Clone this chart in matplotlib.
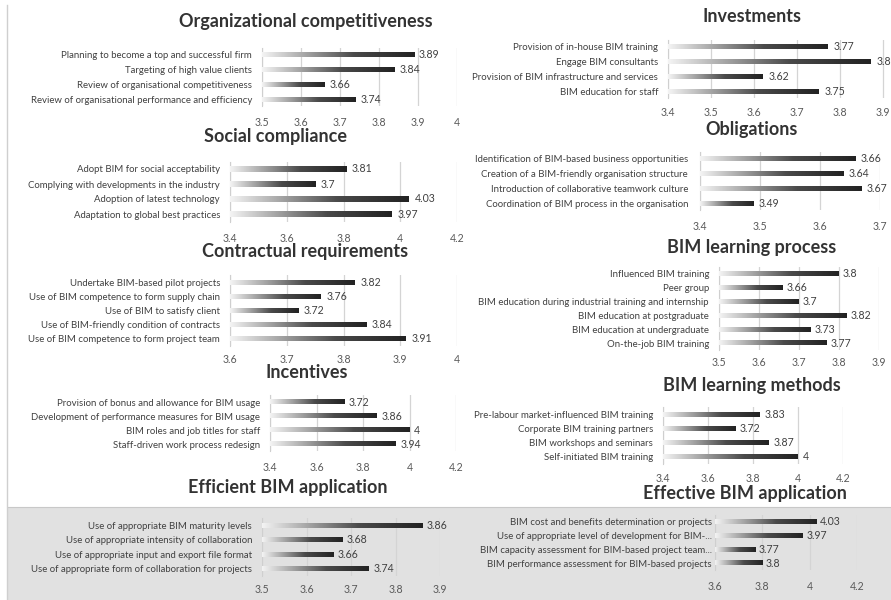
import matplotlib
matplotlib.use("Agg")
import matplotlib.pyplot as plt
import numpy as np
from matplotlib.colors import LinearSegmentedColormap
from matplotlib.patches import Rectangle

plt.rcParams['font.family'] = ['Lato', 'DejaVu Sans']

# ---------------- data ----------------
org_labels = ["Planning to become a top and successful firm",
              "Targeting of high value clients",
              "Review of organisational competitiveness",
              "Review of organisational performance and efficiency"]
org_values = [3.89, 3.84, 3.66, 3.74]

inv_labels = ["Provision of in-house BIM training",
              "Engage BIM consultants",
              "Provision of BIM infrastructure and services",
              "BIM education for staff"]
inv_values = [3.77, 3.87, 3.62, 3.75]

soc_labels = ["Adopt BIM for social acceptability",
              "Complying with developments in the industry",
              "Adoption of latest technology",
              "Adaptation to global best practices"]
soc_values = [3.81, 3.70, 4.03, 3.97]

obl_labels = ["Identification of BIM-based business opportunities",
              "Creation of a BIM-friendly organisation structure",
              "Introduction of collaborative teamwork culture",
              "Coordination of BIM process in the organisation"]
obl_values = [3.66, 3.64, 3.67, 3.49]

con_labels = ["Undertake BIM-based pilot projects",
              "Use of BIM competence to form supply chain",
              "Use of BIM to satisfy client",
              "Use of BIM-friendly condition of contracts",
              "Use of BIM competence to form project team"]
con_values = [3.82, 3.76, 3.72, 3.84, 3.91]

lp_labels = ["Influenced BIM training",
             "Peer group",
             "BIM education during industrial training and internship",
             "BIM education at postgraduate",
             "BIM education at undergraduate",
             "On-the-job BIM training"]
lp_values = [3.80, 3.66, 3.70, 3.82, 3.73, 3.77]

inc_labels = ["Provision of bonus and allowance for BIM usage",
              "Development of performance measures for BIM usage",
              "BIM roles and job titles for staff",
              "Staff-driven work process redesign"]
inc_values = [3.72, 3.86, 4.0, 3.94]

lm_labels = ["Pre-labour market-influenced BIM training",
             "Corporate BIM training partners",
             "BIM workshops and seminars",
             "Self-initiated BIM training"]
lm_values = [3.83, 3.72, 3.87, 4.0]

eff_labels = ["Use of appropriate BIM maturity levels",
              "Use of appropriate intensity of collaboration",
              "Use of appropriate input and export file format",
              "Use of appropriate form of collaboration for projects"]
eff_values = [3.86, 3.68, 3.66, 3.74]

efv_labels = ["BIM cost and benefits determination or projects",
              "Use of appropriate level of development for BIM-...",
              "BIM capacity assessment for BIM-based project team...",
              "BIM performance assessment for BIM-based projects"]
efv_values = [4.03, 3.97, 3.77, 3.80]

W, H = 891, 600
fig = plt.figure(figsize=(W / 100, H / 100), dpi=100)
fig.patch.set_facecolor('white')

# background layer: grey band at the bottom and thin left border
bg = fig.add_axes([0, 0, 1, 1], zorder=-10)
bg.set_xlim(0, W)
bg.set_ylim(H, 0)
bg.axis('off')
bg.add_patch(Rectangle((8, 507), W, H - 507, facecolor='#e1e1e1', edgecolor='none'))
bg.plot([8, W], [507, 507], color='#c8c8c8', lw=0.8)
bg.plot([7, 7], [5, H], color='#cfcfcf', lw=1.0)

cmap = LinearSegmentedColormap.from_list(
    'barfade', [(0, '#f4f4f4'), (0.3, '#a0a0a0'), (0.6, '#4a4a4a'), (1, '#222222')])
grad = np.linspace(0, 1, 256).reshape(1, -1)


def panel(title, labels, values, ticks, xlim, px, title_xy, label_x, tick_y):
    # px = (x_at_xlim0, x_at_xlim1, top, bottom) in pixels
    x0, x1, top, bot = px
    ax = fig.add_axes([x0 / W, 1 - bot / H, (x1 - x0) / W, (bot - top) / H])
    ax.patch.set_alpha(0)
    n = len(values)
    h = 0.34
    for i, v in enumerate(values):
        ax.imshow(grad, extent=(xlim[0], v, i - h / 2, i + h / 2), cmap=cmap,
                  aspect='auto', interpolation='bicubic', zorder=3)
        ax.text(v + (xlim[1] - xlim[0]) * 0.025, i, f"{v:g}", va='center', ha='left',
                fontsize=7.6, color='#404040', zorder=4, clip_on=False)
    ax.set_xlim(xlim)
    ax.set_ylim(n - 0.5, -0.5)
    ax.set_xticks(ticks)
    ax.set_xticklabels([f"{t:g}" for t in ticks])
    ax.set_yticks(range(n))
    ax.set_yticklabels(labels)
    ax.grid(axis='x', color='#d4d4d4', lw=0.9, zorder=0)
    ax.set_axisbelow(True)
    for s in ['top', 'right', 'bottom']:
        ax.spines[s].set_visible(False)
    ax.spines['left'].set_color('#cfcfcf')
    ax.tick_params(axis='x', length=0, labelsize=7.6, labelcolor='#595959',
                   pad=max(0, (tick_y - bot - 5)) * 0.72)
    ax.tick_params(axis='y', length=0, labelsize=6.9, labelcolor='#404040',
                   pad=(x0 - label_x) * 0.72)
    fig.text(title_xy[0] / W, 1 - title_xy[1] / H, title, ha='center', va='center',
             fontsize=13, fontweight='bold', color='#333333')
    return ax


panel("Organizational competitiveness", org_labels, org_values,
      [3.5, 3.6, 3.7, 3.8, 3.9, 4.0], (3.5, 4.0), (262, 457, 47.6, 106.4),
      (306, 22), 252, 122)
panel("Investments", inv_labels, inv_values,
      [3.4, 3.5, 3.6, 3.7, 3.8, 3.9], (3.4, 4.0), (668, 926, 39.6, 98.4),
      (752, 17), 658, 112)
panel("Social compliance", soc_labels, soc_values,
      [3.4, 3.6, 3.8, 4.0, 4.2], (3.4, 4.2), (230, 457, 161.5, 221.5),
      (275, 137), 220, 238)
panel("Obligations", obl_labels, obl_values,
      [3.4, 3.5, 3.6, 3.7], (3.4, 3.7), (700, 880, 151.6, 210.4),
      (752, 130), 688, 226)
panel("Contractual requirements", con_labels, con_values,
      [3.6, 3.7, 3.8, 3.9, 4.0], (3.6, 4.0), (230, 457, 275, 346),
      (305, 252), 220, 359)
panel("BIM learning process", lp_labels, lp_values,
      [3.5, 3.6, 3.7, 3.8, 3.9], (3.5, 3.9), (719, 879, 267, 350),
      (752, 247), 709, 362)
panel("Incentives", inc_labels, inc_values,
      [3.4, 3.6, 3.8, 4.0, 4.2], (3.4, 4.2), (270, 456, 395, 451),
      (307, 372), 260, 467)
panel("BIM learning methods", lm_labels, lm_values,
      [3.4, 3.6, 3.8, 4.0, 4.2], (3.4, 4.2), (663, 843, 407, 464),
      (752, 385), 653, 478)
panel("Efficient BIM application", eff_labels, eff_values,
      [3.5, 3.6, 3.7, 3.8, 3.9], (3.5, 3.9), (262, 440, 518, 576),
      (288, 487), 252, 589)
panel("Effective BIM application", efv_labels, efv_values,
      [3.6, 3.8, 4.0, 4.2], (3.6, 4.2), (715, 857, 515, 570),
      (745, 493), 712, 586)

fig.savefig("out.png", dpi=100)
